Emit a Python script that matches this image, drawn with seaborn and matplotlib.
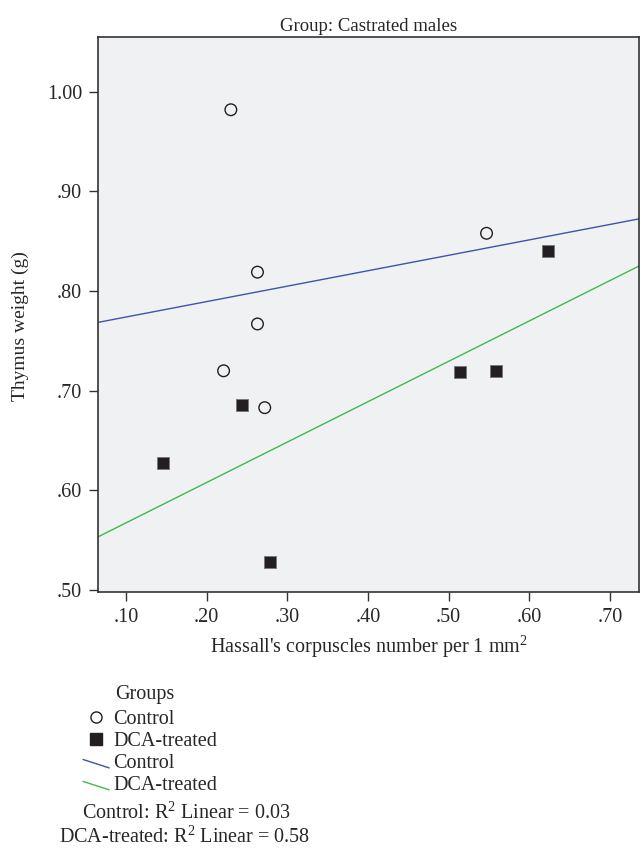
import numpy as np
import pandas as pd
import seaborn as sns
import matplotlib.pyplot as plt
from matplotlib.lines import Line2D
from matplotlib.legend_handler import HandlerBase

# data
control_x = [0.230, 0.547, 0.263, 0.263, 0.221, 0.272]
control_y = [0.982, 0.858, 0.819, 0.767, 0.720, 0.683]
dca_x = [0.6235, 0.146, 0.2436, 0.5146, 0.559, 0.279]
dca_y = [0.840, 0.627, 0.686, 0.719, 0.720, 0.528]

x_ticks = [0.10, 0.20, 0.30, 0.40, 0.50, 0.60, 0.70]
x_labels = [".10", ".20", ".30", ".40", ".50", ".60", ".70"]
y_ticks = [0.50, 0.60, 0.70, 0.80, 0.90, 1.00]
y_labels = [".50", ".60", ".70", ".80", ".90", "1.00"]
r2_lines = ["Control: R$^{2}$ Linear = 0.03", "DCA-treated: R$^{2}$ Linear = 0.58"]

df = pd.DataFrame({
    "x": control_x + dca_x,
    "y": control_y + dca_y,
    "Groups": ["Control"] * len(control_x) + ["DCA-treated"] * len(dca_x),
})

sns.set_style("white")
plt.rcParams['font.family'] = ['Liberation Serif', 'DejaVu Serif']
plt.rcParams['mathtext.fontset'] = 'custom'
plt.rcParams['mathtext.rm'] = 'Liberation Serif'
plt.rcParams['mathtext.default'] = 'regular'

blue = "#3a57a7"
green = "#3fb94f"
dark = "#231f20"
fs = 14.5

fig = plt.figure(figsize=(6.41, 8.65), dpi=100)
ax = fig.add_axes([98 / 641, 1 - 592 / 865, 541 / 641, 555 / 865])
ax.set_facecolor("#f0f1f3")
ax.set_xlim(0.0653, 0.736)
ax.set_ylim(0.498, 1.055)

ctrl = df[df["Groups"] == "Control"]
dca = df[df["Groups"] == "DCA-treated"]

sns.regplot(data=ctrl, x="x", y="y", scatter=False, ci=None, truncate=False,
            line_kws={"color": blue, "lw": 1.0}, ax=ax)
sns.regplot(data=dca, x="x", y="y", scatter=False, ci=None, truncate=False,
            line_kws={"color": green, "lw": 1.0}, ax=ax)
sns.scatterplot(data=ctrl, x="x", y="y", marker="o", s=70, facecolor="none",
                edgecolor=dark, linewidth=1.0, ax=ax, zorder=3)
sns.scatterplot(data=dca, x="x", y="y", marker="s", s=75, color=dark,
                edgecolor="#777777", linewidth=0.6, ax=ax, zorder=3)

ax.set_xticks(x_ticks)
ax.set_xticklabels(x_labels)
ax.set_yticks(y_ticks)
ax.set_yticklabels(y_labels)
ax.tick_params(axis="both", direction="out", length=6.5, width=1, color="#333333",
               labelsize=fs, pad=5, bottom=True, left=True)
for sp in ax.spines.values():
    sp.set_color("#333333")
    sp.set_linewidth(1.2)

ax.set_xlabel("Hassall's corpuscles number per 1 mm$^{2}$", fontsize=fs, labelpad=5)
ax.set_ylabel("Thymus weight (g)", fontsize=14)
ax.yaxis.set_label_coords(-0.128, 0.48)
ax.set_title("Group: Castrated males", fontsize=13.5, pad=4)


class DiagHandler(HandlerBase):
    def create_artists(self, legend, orig_handle, xdescent, ydescent,
                       width, height, fontsize, trans):
        line = Line2D([-xdescent, -xdescent + width],
                      [height * 0.6, -ydescent],
                      color=orig_handle.get_color(), lw=1.0, transform=trans)
        return [line]


handles = [
    Line2D([], [], marker="o", ls="none", mfc="none", mec=dark, ms=8, mew=1.0),
    Line2D([], [], marker="s", ls="none", mfc=dark, mec=dark, ms=8),
    Line2D([], [], color=blue),
    Line2D([], [], color=green),
]
labels = ["Control", "DCA-treated", "Control", "DCA-treated"]
fig.text(145 / 641, 1 - 694 / 865, "Groups", ha="center", va="center", fontsize=fs)
fig.legend(handles, labels, loc="upper left",
           bbox_to_anchor=(83 / 641, 1 - 710 / 865), frameon=False,
           fontsize=fs, handlelength=1.3, borderaxespad=0,
           handletextpad=0.2, labelspacing=0.14, borderpad=0,
           handler_map={handles[2]: DiagHandler(), handles[3]: DiagHandler()})

fig.text(186 / 641, 1 - 813 / 865, r2_lines[0], ha="center", va="center", fontsize=fs)
fig.text(185 / 641, 1 - 837 / 865, r2_lines[1], ha="center", va="center", fontsize=fs)

fig.savefig("out.png", dpi=100)
